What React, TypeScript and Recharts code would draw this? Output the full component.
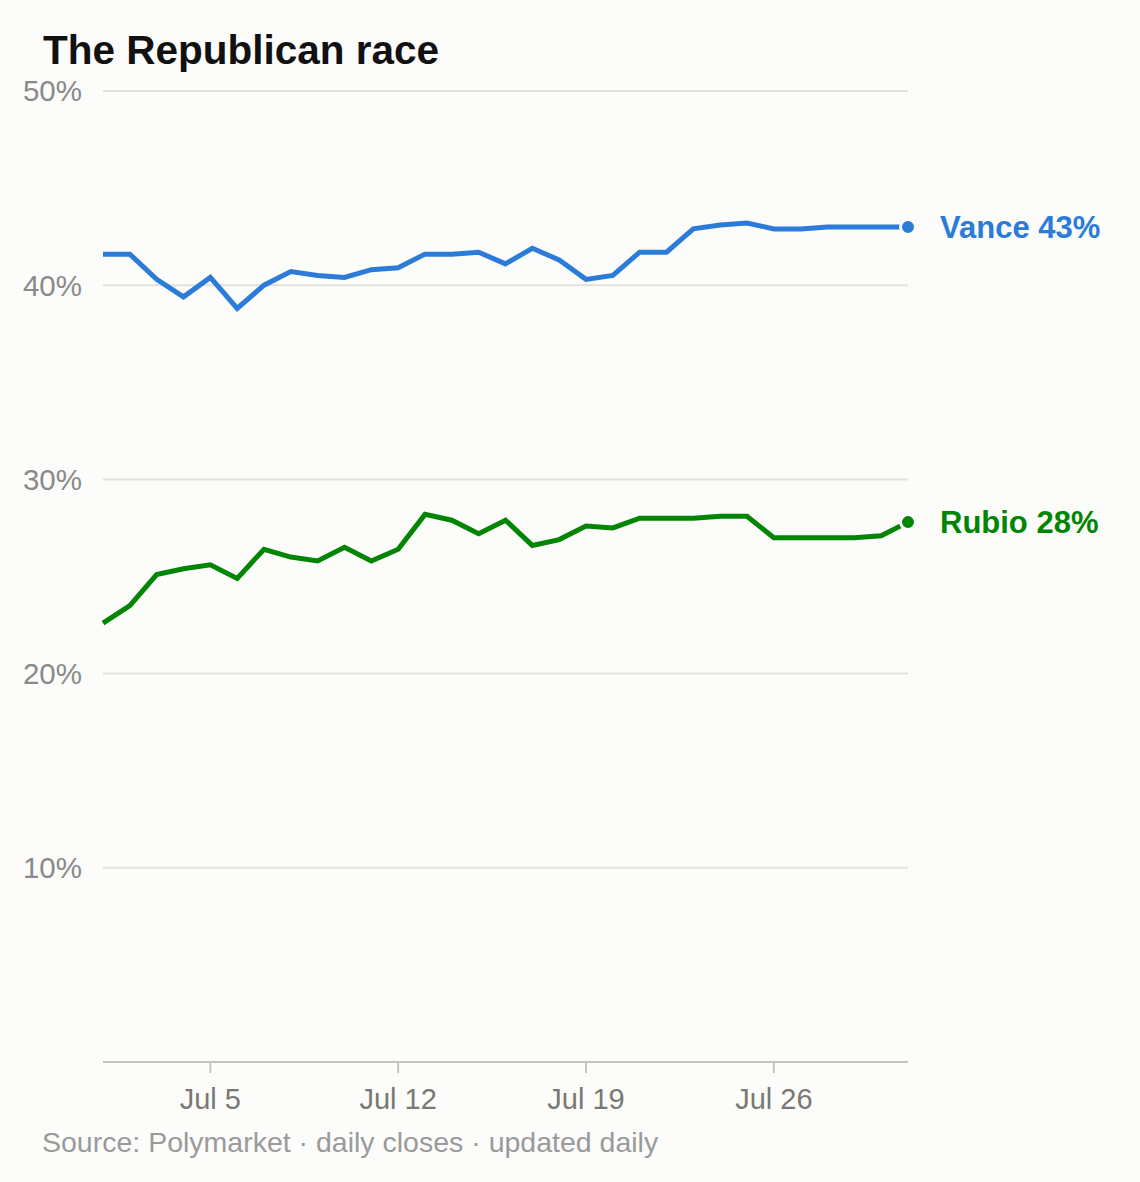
import React from 'react';
import { LineChart, Line, XAxis, YAxis, CartesianGrid } from 'recharts';

// July days, one close per day
const days = [1, 2, 3, 4, 5, 6, 7, 8, 9, 10, 11, 12, 13, 14, 15, 16, 17, 18, 19, 20, 21, 22, 23, 24, 25, 26, 27, 28, 29, 30, 31];

const vance = [41.6, 41.6, 40.3, 39.4, 40.4, 38.8, 40.0, 40.7, 40.5, 40.4, 40.8, 40.9, 41.6, 41.6, 41.7, 41.1, 41.9, 41.3, 40.3, 40.5, 41.7, 41.7, 42.9, 43.1, 43.2, 42.9, 42.9, 43.0, 43.0, 43.0, 43.0];
const rubio = [22.6, 23.5, 25.1, 25.4, 25.6, 24.9, 26.4, 26.0, 25.8, 26.5, 25.8, 26.4, 28.2, 27.9, 27.2, 27.9, 26.6, 26.9, 27.6, 27.5, 28.0, 28.0, 28.0, 28.1, 28.1, 27.0, 27.0, 27.0, 27.0, 27.1, 27.8];

const yTicks = [10, 20, 30, 40, 50];
const xTicks = [5, 12, 19, 26];

const BG = '#fcfcfa';
const FONT = '"Liberation Sans", Arial, Helvetica, sans-serif';
const BLUE = '#2b7bd9';
const GREEN = '#028502';

const data = days.map((d, i) => ({ day: d, vance: vance[i], rubio: rubio[i] }));

function endDot(name: string, color: string, values: number[]) {
  return (props: any) => {
    const { cx, cy, index } = props;
    if (index !== values.length - 1) return <g key={`${name}-${index}`} />;
    const label = `${name} ${Math.round(values[index])}%`;
    return (
      <g key={`${name}-end`}>
        <circle cx={cx} cy={cy} r={7.5} fill={color} stroke={BG} strokeWidth={3} />
        <text
          x={cx + 32}
          y={cy}
          dy="0.36em"
          fill={color}
          fontSize={31}
          fontWeight="bold"
          fontFamily={FONT}
        >
          {label}
        </text>
      </g>
    );
  };
}

export default function App() {
  return (
    <div
      style={{
        position: 'absolute',
        left: 0,
        top: 0,
        width: 1140,
        height: 1182,
        background: BG,
        fontFamily: FONT,
        overflow: 'hidden',
      }}
    >
      <div
        style={{
          position: 'absolute',
          left: 43,
          top: 30,
          fontSize: 40.5,
          lineHeight: '40px',
          fontWeight: 'bold',
          color: '#111',
          whiteSpace: 'nowrap',
        }}
      >
        The Republican race
      </div>

      <LineChart
        width={1140}
        height={1182}
        data={data}
        margin={{ top: 91, right: 232, bottom: 0, left: 0 }}
        style={{ position: 'absolute', left: 0, top: 0 }}
      >
        <CartesianGrid horizontal vertical={false} stroke="#e2e2dd" strokeWidth={2} />
        <XAxis
          dataKey="day"
          type="number"
          domain={[1, 31]}
          ticks={xTicks}
          tickFormatter={(d: number) => `Jul ${d}`}
          height={120}
          axisLine={{ stroke: '#c5c5bd', strokeWidth: 2 }}
          tickLine={{ stroke: '#c5c5bd', strokeWidth: 2 }}
          tickSize={11}
          tickMargin={15}
          tick={{ fill: '#7a7873', fontSize: 29, fontFamily: FONT }}
          interval={0}
        />
        <YAxis
          type="number"
          domain={[0, 50]}
          ticks={yTicks}
          tickFormatter={(v: number) => `${v}%`}
          width={103}
          axisLine={false}
          tickLine={false}
          tickSize={0}
          tickMargin={21}
          tick={{ fill: '#8a8a8a', fontSize: 29.5, fontFamily: FONT }}
          interval={0}
        />
        <Line
          type="linear"
          dataKey="vance"
          stroke={BLUE}
          strokeWidth={5}
          dot={endDot('Vance', BLUE, vance)}
          activeDot={false}
          isAnimationActive={false}
        />
        <Line
          type="linear"
          dataKey="rubio"
          stroke={GREEN}
          strokeWidth={5}
          dot={endDot('Rubio', GREEN, rubio)}
          activeDot={false}
          isAnimationActive={false}
        />
      </LineChart>

      <div
        style={{
          position: 'absolute',
          left: 42,
          top: 1128,
          fontSize: 28.5,
          lineHeight: '28px',
          color: '#9a9a9a',
          whiteSpace: 'nowrap',
        }}
      >
        Source: Polymarket · daily closes · updated daily
      </div>
    </div>
  );
}
